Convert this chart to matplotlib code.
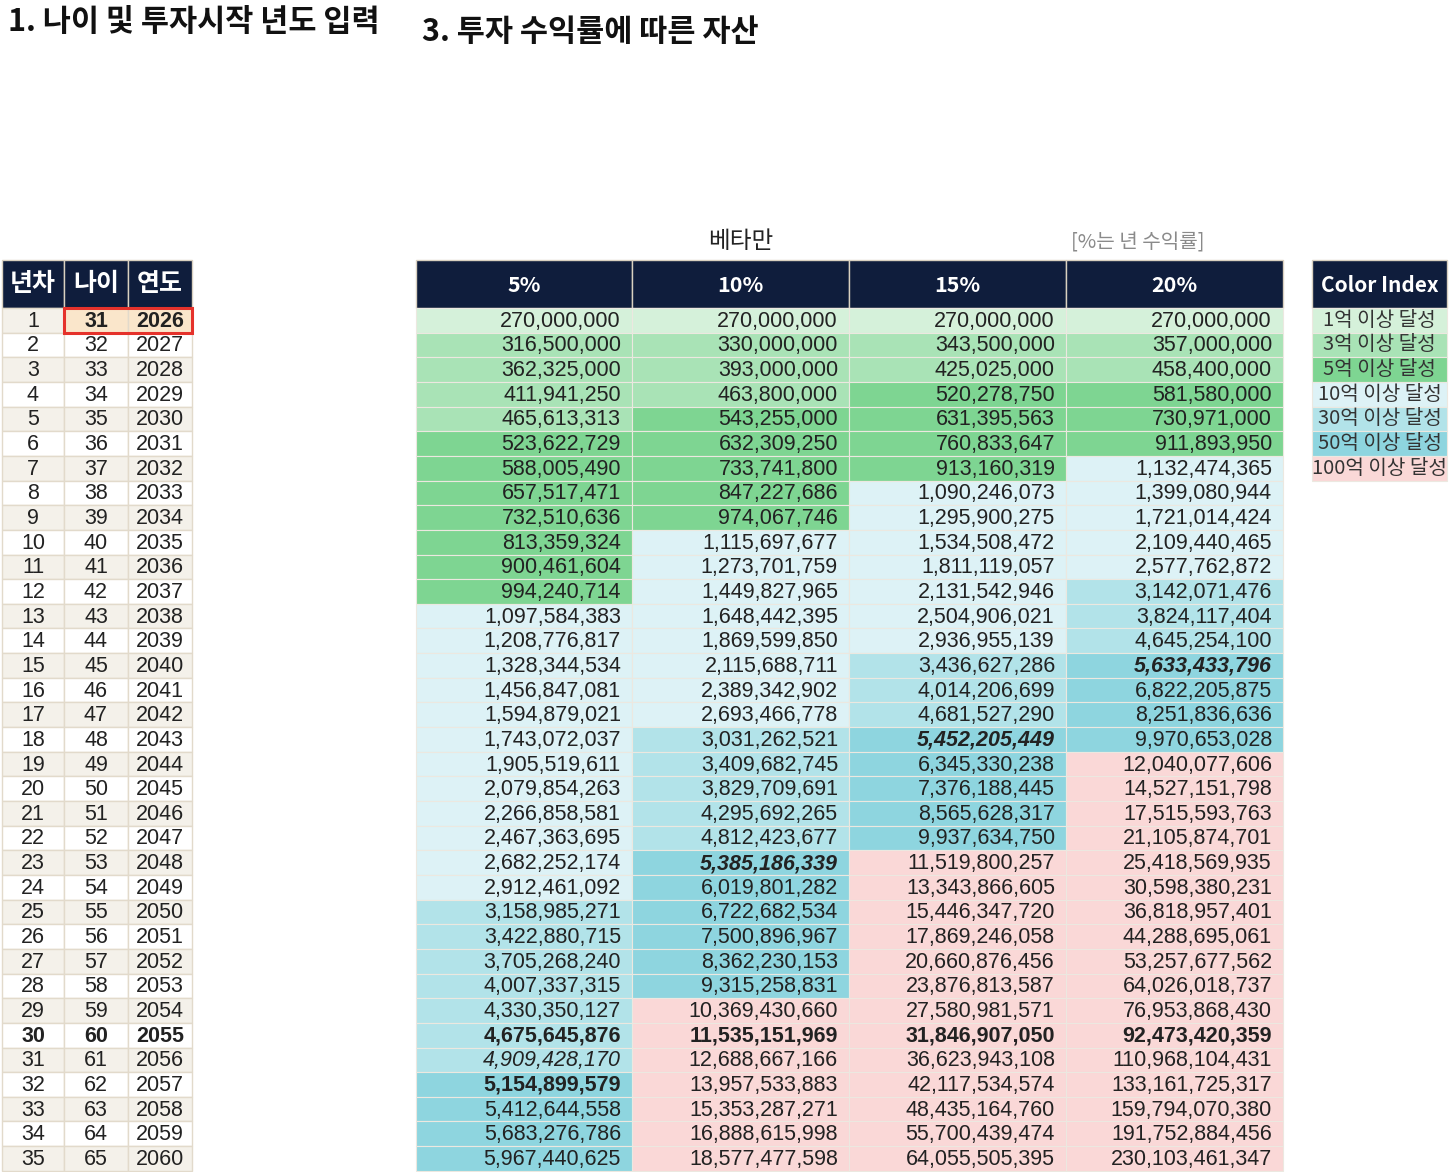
import numpy as np
import matplotlib.pyplot as plt
from matplotlib.patches import Rectangle

plt.rcParams['font.family'] = ['Noto Sans CJK KR', 'DejaVu Sans']

## data
years_n = list(range(1, 36))
ages = list(range(31, 66))
years = list(range(2026, 2061))

rates = ["5%", "10%", "15%", "20%"]

r5 = [270000000, 316500000, 362325000, 411941250, 465613313, 523622729, 588005490,
      657517471, 732510636, 813359324, 900461604, 994240714, 1097584383, 1208776817,
      1328344534, 1456847081, 1594879021, 1743072037, 1905519611, 2079854263,
      2266858581, 2467363695, 2682252174, 2912461092, 3158985271, 3422880715,
      3705268240, 4007337315, 4330350127, 4675645876, 4909428170, 5154899579,
      5412644558, 5683276786, 5967440625]
r10 = [270000000, 330000000, 393000000, 463800000, 543255000, 632309250, 733741800,
       847227686, 974067746, 1115697677, 1273701759, 1449827965, 1648442395,
       1869599850, 2115688711, 2389342902, 2693466778, 3031262521, 3409682745,
       3829709691, 4295692265, 4812423677, 5385186339, 6019801282, 6722682534,
       7500896967, 8362230153, 9315258831, 10369430660, 11535151969, 12688667166,
       13957533883, 15353287271, 16888615998, 18577477598]
r15 = [270000000, 343500000, 425025000, 520278750, 631395563, 760833647, 913160319,
       1090246073, 1295900275, 1534508472, 1811119057, 2131542946, 2504906021,
       2936955139, 3436627286, 4014206699, 4681527290, 5452205449, 6345330238,
       7376188445, 8565628317, 9937634750, 11519800257, 13343866605, 15446347720,
       17869246058, 20660876456, 23876813587, 27580981571, 31846907050, 36623943108,
       42117534574, 48435164760, 55700439474, 64055505395]
r20 = [270000000, 357000000, 458400000, 581580000, 730971000, 911893950, 1132474365,
       1399080944, 1721014424, 2109440465, 2577762872, 3142071476, 3824117404,
       4645254100, 5633433796, 6822205875, 8251836636, 9970653028, 12040077606,
       14527151798, 17515593763, 21105874701, 25418569935, 30598380231, 36818957401,
       44288695061, 53257677562, 64026018737, 76953868430, 92473420359, 110968104431,
       133161725317, 159794070380, 191752884456, 230103461347]

## style flags per column: (row index 0-based) -> style
styles = {
    0: {29: 'bold', 30: 'italic', 31: 'bold'},
    1: {29: 'bold', 22: 'bolditalic'},
    2: {29: 'bold', 17: 'bolditalic'},
    3: {29: 'bold', 14: 'bolditalic'},
}

legend_labels = ["1억 이상 달성", "3억 이상 달성", "5억 이상 달성", "10억 이상 달성",
                 "30억 이상 달성", "50억 이상 달성", "100억 이상 달성"]
thresholds = [1e8, 3e8, 5e8, 1e9, 3e9, 5e9, 1e10]
colors = ['#D5F1DA', '#A9E3B6', '#7ED592', '#DDF2F6', '#B2E3E9', '#8ED5DF', '#FAD8D7']

def cell_color(v):
    c = 'white'
    for t, col in zip(thresholds, colors):
        if v >= t:
            c = col
    return c

navy = '#0F1D3C'
txt = '#222222'
num_font = 'Liberation Sans'

fig = plt.figure(figsize=(14.5, 11.72), dpi=100)
ax = fig.add_axes([0, 0, 1, 1])
ax.set_xlim(0, 1450)
ax.set_ylim(1172, 0)
ax.axis('off')

## titles
ax.text(8, 22, "1. 나이 및 투자시작 년도 입력", fontsize=22, fontweight='bold',
        va='center', ha='left', color='#111111')
ax.text(422, 32, "3. 투자 수익률에 따른 자산", fontsize=22, fontweight='bold',
        va='center', ha='left', color='#111111')
ax.text(741, 241, "베타만", fontsize=17, va='center', ha='center', color='#222222')
ax.text(1138, 243, "[%는 년 수익률]", fontsize=14.5, va='center', ha='center', color='#8A8A8A')

top = 308
rh = 24.65
hdr_top = 260

## left table
lx = [2, 64, 128, 192]
left_head = ["년차", "나이", "연도"]
left_cols = [years_n, ages, years]
for j in range(3):
    ax.add_patch(Rectangle((lx[j], hdr_top), lx[j+1]-lx[j], top-hdr_top,
                           facecolor=navy, edgecolor='#D9D0C0', lw=1))
    ax.text((lx[j]+lx[j+1])/2, (hdr_top+top)/2, left_head[j], color='white',
            fontsize=18, fontweight='bold', ha='center', va='center')
for i in range(35):
    y0 = top + i*rh
    fill = '#F4F1EA' if i % 2 == 0 else 'white'
    for j in range(3):
        fc = fill
        if i == 0 and j > 0:
            fc = '#FAE6CB'
        ax.add_patch(Rectangle((lx[j], y0), lx[j+1]-lx[j], rh,
                               facecolor=fc, edgecolor='#E2DACB', lw=1))
        bold = (i == 29) or (i == 0 and j > 0)
        ax.text((lx[j]+lx[j+1])/2, y0+rh/2+1, str(left_cols[j][i]), family=num_font,
                fontsize=15.5, fontweight='bold' if bold else 'normal',
                ha='center', va='center', color=txt)
ax.add_patch(Rectangle((lx[1], top), lx[3]-lx[1], rh, facecolor='none',
                       edgecolor='#E5322B', lw=2.2, zorder=5))

## main table
mx = [416, 632, 849, 1066, 1283]
series = [r5, r10, r15, r20]
for j in range(4):
    ax.add_patch(Rectangle((mx[j], hdr_top), mx[j+1]-mx[j], top-hdr_top,
                           facecolor=navy, edgecolor='#D9D0C0', lw=1))
    ax.text((mx[j]+mx[j+1])/2, (hdr_top+top)/2 + 1, rates[j], color='white',
            fontsize=15.5, fontweight='bold', ha='center', va='center')
    for i, v in enumerate(series[j]):
        y0 = top + i*rh
        ax.add_patch(Rectangle((mx[j], y0), mx[j+1]-mx[j], rh,
                               facecolor=cell_color(v), edgecolor='#ECE8E0', lw=0.8))
        st = styles[j].get(i, '')
        ax.text(mx[j+1]-11, y0+rh/2+1, f"{v:,}", family=num_font, fontsize=15.5,
                fontweight='bold' if 'bold' in st else 'normal',
                fontstyle='italic' if 'italic' in st else 'normal',
                ha='right', va='center', color=txt)

## color index
cx0, cx1 = 1312, 1447
ax.add_patch(Rectangle((cx0, hdr_top), cx1-cx0, top-hdr_top,
                       facecolor=navy, edgecolor='#D9D0C0', lw=1))
ax.text((cx0+cx1)/2, (hdr_top+top)/2 + 1, "Color Index", color='white',
        fontsize=15, fontweight='bold', ha='center', va='center')
for k, (lab, col) in enumerate(zip(legend_labels, colors)):
    y0 = top + k*rh
    ax.add_patch(Rectangle((cx0, y0), cx1-cx0, rh, facecolor=col,
                           edgecolor='#ECE8E0', lw=0.8))
    ax.text((cx0+cx1)/2, y0+rh/2, lab, fontsize=14.5, ha='center', va='center',
            color='#333333')

fig.savefig("out.png", dpi=100)
